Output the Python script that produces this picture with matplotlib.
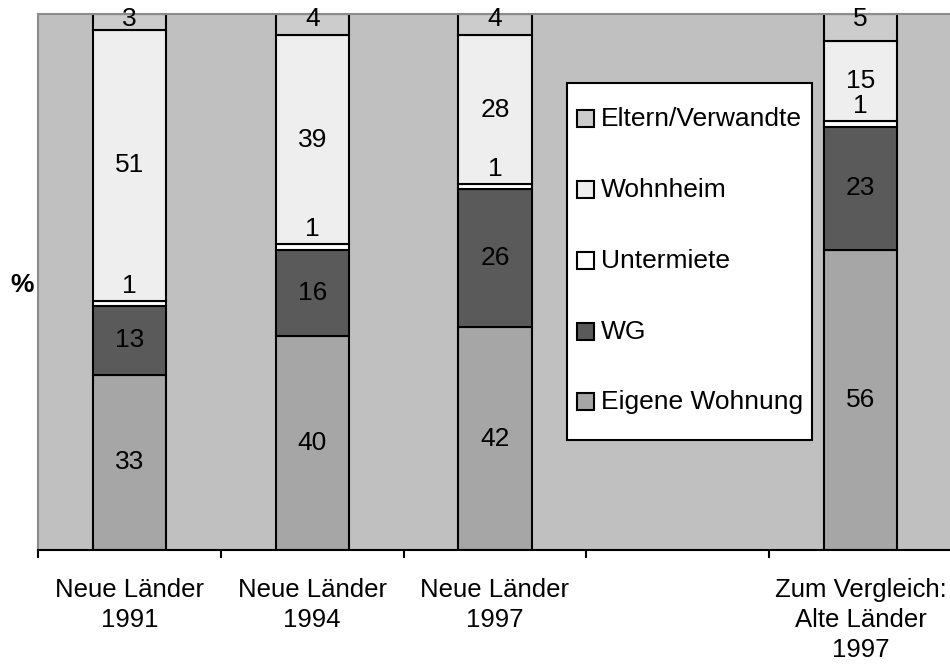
"""Wohnformen von Studierenden: Neue Länder 1991-1997 und Alte Länder 1997 (100 % gestapelt)."""

import matplotlib.pyplot as plt
import numpy as np
from matplotlib.patches import Rectangle

plt.rcParams["font.family"] = ["Liberation Sans", "DejaVu Sans"]

CATEGORIES = [
    "Neue Länder\n1991",
    "Neue Länder\n1994",
    "Neue Länder\n1997",
    "",
    "Zum Vergleich:\nAlte Länder\n1997",
]
SERIES = ["Eigene Wohnung", "WG", "Untermiete", "Wohnheim", "Eltern/Verwandte"]
COLORS = ["#a6a6a6", "#5a5a5a", "#ffffff", "#eeeeee", "#cccccc"]

# Werte in Prozent, Reihenfolge wie SERIES; die leere Kategorie bleibt leer
EIGENE = [33, 40, 42, 0, 56]
WG = [13, 16, 26, 0, 23]
UNTERMIETE = [1, 1, 1, 0, 1]
WOHNHEIM = [51, 39, 28, 0, 15]
ELTERN = [3, 4, 4, 0, 5]

W, H = 950, 666
FS = 19


def px(x: float, y: float) -> tuple[float, float]:
    """Pixel (von oben links) -> Figurkoordinaten."""
    return x / W, 1 - y / H


def draw_legend(fig: plt.Figure) -> None:
    # Legende von Hand, damit Abstände wie im Original passen
    x0, y0 = px(567, 440)
    x1, y1 = px(812, 83)
    fig.add_artist(Rectangle((x0, y0), x1 - x0, y1 - y0, transform=fig.transFigure,
                             facecolor="white", edgecolor="black", linewidth=1.5, zorder=5))
    rows = [119, 190, 261, 332, 402]
    for row, i in zip(rows, reversed(range(len(SERIES)))):
        sx, sy = px(577, row + 8)
        fig.add_artist(Rectangle((sx, sy), 17 / W, 17 / H, transform=fig.transFigure,
                                 facecolor=COLORS[i], edgecolor="black", linewidth=1.5, zorder=6))
        tx, ty = px(601, row)
        fig.text(tx, ty, SERIES[i], ha="left", va="center", fontsize=FS, zorder=6)


def main() -> None:
    values = np.array([EIGENE, WG, UNTERMIETE, WOHNHEIM, ELTERN], dtype=float)
    totals = values.sum(axis=0)
    shares = np.divide(values * 100, totals, out=np.zeros_like(values), where=totals > 0)

    fig = plt.figure(figsize=(W / 100, H / 100), dpi=100)
    ax = fig.add_axes([38 / W, 1 - 550 / H, 914 / W, 536 / H])
    ax.set_facecolor("#c0c0c0")

    x = np.arange(len(CATEGORIES))
    bottom = np.zeros(len(CATEGORIES))
    for i, name in enumerate(SERIES):
        mask = values[i] > 0
        ax.bar(x[mask], shares[i][mask], bottom=bottom[mask], width=0.4,
               color=COLORS[i], edgecolor="black", linewidth=1.5, zorder=2)
        for j in np.where(mask)[0]:
            center = bottom[j] + shares[i][j] / 2
            if name == "Untermiete":
                center += 3.3
            elif name == "Eltern/Verwandte":
                center = 99.0
            ax.text(x[j], center, f"{values[i][j]:.0f}", ha="center", va="center",
                    fontsize=FS, color="black", zorder=3)
        bottom += shares[i]

    ax.set_xlim(-0.5, 4.5)
    ax.set_ylim(0, 100)
    ax.set_yticks([])
    ax.set_xticks(np.arange(-0.5, 4.0, 1.0))
    ax.set_xticklabels([])
    ax.tick_params(axis="x", which="major", direction="out", length=6, width=1.5, color="black")
    ax.set_xticks(x, minor=True)
    ax.set_xticklabels(CATEGORIES, minor=True, fontsize=18.5, linespacing=1.33)
    ax.tick_params(axis="x", which="minor", length=0, pad=20)

    for side in ("top", "left"):
        ax.spines[side].set_color("#8c8c8c")
        ax.spines[side].set_linewidth(1.5)
    ax.spines["right"].set_visible(False)
    ax.spines["bottom"].set_color("black")
    ax.spines["bottom"].set_linewidth(1.5)

    draw_legend(fig)

    fig.text(*px(22, 285), "%", ha="center", va="center", fontsize=FS, fontweight="bold")

    fig.savefig("out.png", dpi=100)


if __name__ == "__main__":
    main()
